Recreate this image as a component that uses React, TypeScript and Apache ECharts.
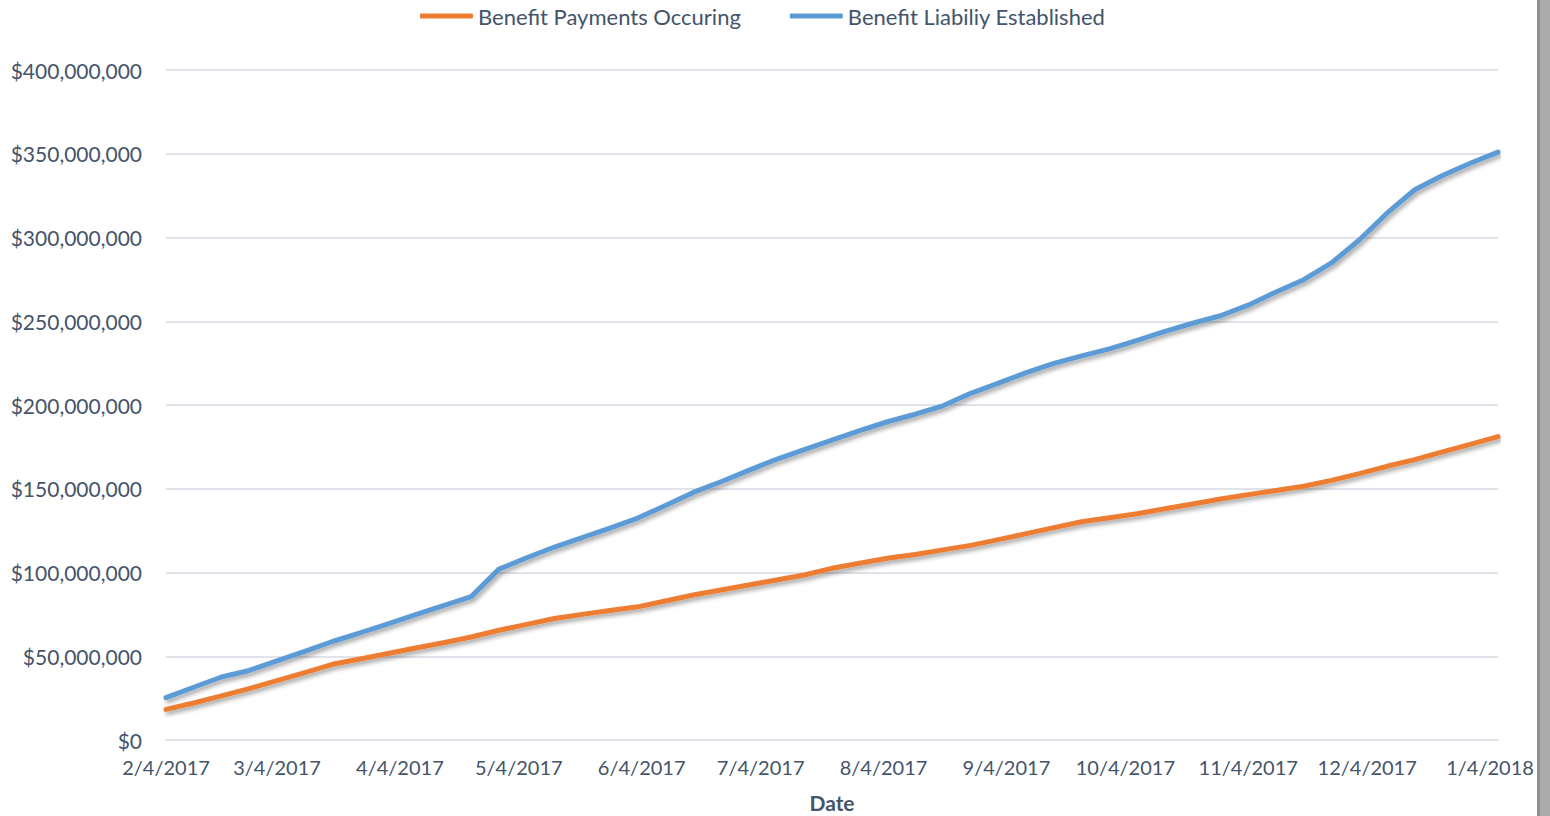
import React, { useEffect, useRef } from "react";
import * as echarts from "echarts";

// Weekly observation dates
const dates: string[] = [
  "2017-02-04", "2017-02-11", "2017-02-18", "2017-02-25",
  "2017-03-04", "2017-03-11", "2017-03-18", "2017-03-25",
  "2017-04-01", "2017-04-08", "2017-04-15", "2017-04-22", "2017-04-29",
  "2017-05-06", "2017-05-13", "2017-05-20", "2017-05-27",
  "2017-06-03", "2017-06-10", "2017-06-17", "2017-06-24",
  "2017-07-01", "2017-07-08", "2017-07-15", "2017-07-22", "2017-07-29",
  "2017-08-05", "2017-08-12", "2017-08-19", "2017-08-26",
  "2017-09-02", "2017-09-09", "2017-09-16", "2017-09-23", "2017-09-30",
  "2017-10-07", "2017-10-14", "2017-10-21", "2017-10-28",
  "2017-11-04", "2017-11-11", "2017-11-18", "2017-11-25",
  "2017-12-02", "2017-12-09", "2017-12-16", "2017-12-23", "2017-12-30",
  "2018-01-06",
];

// Values in millions of dollars
const paymentsOccurring: number[] = [
  18.3, 22.1, 26.3, 30.7,
  35.4, 40.2, 45.2, 48.4,
  51.6, 54.9, 58.1, 61.5, 65.5,
  69.0, 72.5, 75.0, 77.3,
  79.5, 83.0, 86.6, 89.6,
  92.5, 95.5, 98.5, 102.5, 105.5,
  108.5, 110.8, 113.5, 116.2,
  119.6, 123.2, 126.8, 130.3, 132.7,
  135.1, 138.1, 140.9, 143.9,
  146.5, 149.0, 151.5, 155.0,
  159.0, 163.4, 167.4, 172.0, 176.5,
  181.1,
];

const liabilityEstablished: number[] = [
  25.3, 31.5, 37.6, 41.5,
  47.2, 52.9, 58.8, 64.0,
  69.4, 74.8, 80.2, 85.6, 102.0,
  108.8, 115.2, 120.8, 126.5,
  132.5, 140.0, 147.8, 154.2,
  161.0, 167.6, 173.3, 179.0, 184.7,
  190.0, 194.5, 199.5, 207.0,
  213.0, 219.3, 224.8, 229.3, 233.5,
  238.6, 244.0, 248.8, 253.3,
  259.6, 267.5, 274.8, 284.8,
  298.5, 314.5, 328.5, 337.0, 344.3,
  351.0,
];

const xTickDates: string[] = [
  "2017-02-04", "2017-03-04", "2017-04-04", "2017-05-04", "2017-06-04",
  "2017-07-04", "2017-08-04", "2017-09-04", "2017-10-04", "2017-11-04",
  "2017-12-04", "2018-01-04",
];

const seriesNames = ["Benefit Payments Occuring", "Benefit Liabiliy Established"];

function ts(s: string): number {
  const [y, m, d] = s.split("-").map(Number);
  return new Date(y, m - 1, d).getTime();
}

const TEXT = "#44546A";
const GRID = "#E0E4EA";
const FONT = "Lato, 'Open Sans', sans-serif";

export default function App() {
  const ref = useRef<HTMLDivElement>(null);

  useEffect(() => {
    if (!ref.current) return;
    const chart = echarts.init(ref.current, undefined, { renderer: "svg" });
    const shadow = {
      shadowColor: "rgba(0,0,0,0.35)",
      shadowBlur: 4,
      shadowOffsetX: 2,
      shadowOffsetY: 3,
    };
    chart.setOption({
      animation: false,
      backgroundColor: "#ffffff",
      textStyle: { fontFamily: FONT },
      legend: {
        left: 415,
        top: 0,
        icon: "roundRect",
        itemWidth: 53,
        itemHeight: 5,
        itemGap: 49,
        textStyle: { color: TEXT, fontSize: 22, fontFamily: FONT },
        data: seriesNames,
      },
      grid: {
        left: 166,
        width: 1332,
        top: 70,
        height: 670,
        containLabel: false,
        outerBoundsMode: "none",
      },
      xAxis: {
        type: "value",
        min: ts(dates[0]),
        max: ts(dates[dates.length - 1]),
        scale: true,
        name: "Date",
        nameLocation: "middle",
        nameGap: 52,
        nameTextStyle: { color: TEXT, fontSize: 21, fontWeight: "bold", fontFamily: FONT },
        axisLine: { show: true, lineStyle: { color: GRID, width: 2 } },
        axisTick: { show: false },
        splitLine: { show: false },
        axisLabel: {
          customValues: xTickDates.map(ts),
          hideOverlap: false,
          showMinLabel: true,
          showMaxLabel: true,
          color: TEXT,
          fontSize: 20,
          fontFamily: FONT,
          margin: 17,
          formatter: (v: number) => {
            const d = new Date(v);
            return `${d.getMonth() + 1}/${d.getDate()}/${d.getFullYear()}`;
          },
        },
      },
      yAxis: {
        type: "value",
        min: 0,
        max: 400,
        interval: 50,
        axisLine: { show: false },
        axisTick: { show: false },
        splitLine: { show: true, lineStyle: { color: GRID, width: 2 } },
        axisLabel: {
          color: TEXT,
          fontSize: 21,
          fontFamily: FONT,
          margin: 24,
          formatter: (v: number) => "$" + Math.round(v * 1e6).toLocaleString("en-US"),
        },
      },
      series: [
        {
          name: seriesNames[0],
          type: "line",
          showSymbol: false,
          symbol: "none",
          color: "#ED7D31",
          lineStyle: { width: 5, color: "#ED7D31", cap: "round", join: "round", ...shadow },
          data: dates.map((d, i) => [ts(d), paymentsOccurring[i]]),
        },
        {
          name: seriesNames[1],
          type: "line",
          showSymbol: false,
          symbol: "none",
          color: "#5B9BD5",
          lineStyle: { width: 5, color: "#5B9BD5", cap: "round", join: "round", ...shadow },
          data: dates.map((d, i) => [ts(d), liabilityEstablished[i]]),
        },
      ],
      graphic: [
        { type: "rect", z: 100, shape: { x: 1537, y: 0, width: 13, height: 816 }, style: { fill: "#ABABAB" } },
        { type: "rect", z: 101, shape: { x: 1537, y: 0, width: 3, height: 816 }, style: { fill: "#8E8E8E" } },
      ],
    });
    return () => chart.dispose();
  }, []);

  return (
    <div
      ref={ref}
      style={{ position: "fixed", left: 0, top: 0, width: 1550, height: 816, background: "#fff" }}
    />
  );
}
